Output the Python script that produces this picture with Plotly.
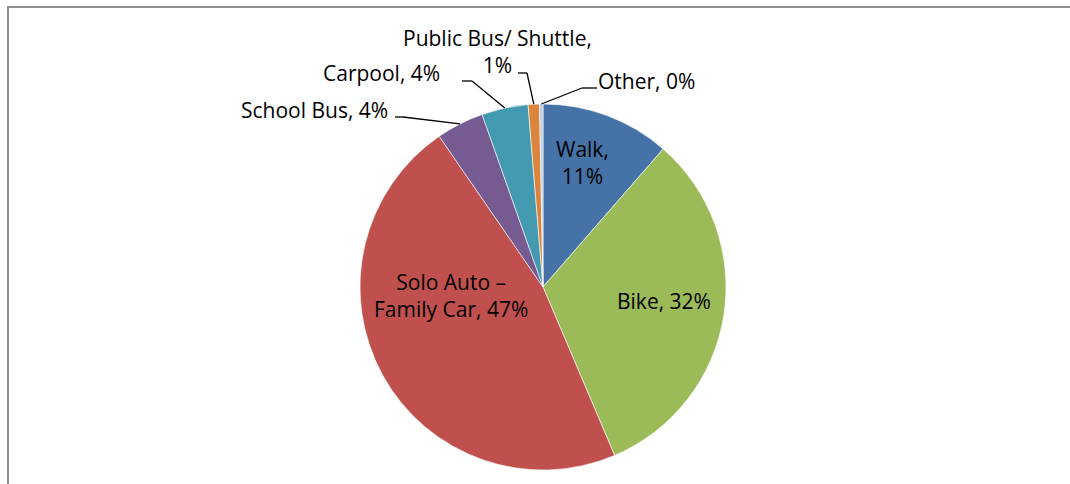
import math
import plotly.graph_objects as go

# Mode share (percent of trips)
modes = ["Walk", "Bike", "Solo Auto –<br>Family Car", "School Bus", "Carpool",
         "Public Bus/ Shuttle", "Other"]
shares = [11.4, 32.2, 46.8, 4.2, 4.1, 1.0, 0.3]
colors = ["#4572A7", "#9BBB59", "#C0504D", "#755B91", "#4399B0", "#DB843D", "#B9CDE5"]

W, H = 1070, 484
CX, CY, R = 543, 287, 183          # pie centre and radius in pixels
FONT = dict(family="Open Sans", size=21, color="#000000")

total = sum(shares)
pct = [f"{round(v / total * 100)}%" for v in shares]


def px(x):
    return x / W


def py(y):
    return 1 - y / H


def edge_point(i):
    """Pixel point on the rim at the middle of slice i (clockwise from 12 o'clock)."""
    cum = sum(shares[:i]) + shares[i] / 2
    theta = 2 * math.pi * cum / total
    return CX + R * math.sin(theta), CY - R * math.cos(theta)


fig = go.Figure(go.Pie(
    labels=modes,
    values=shares,
    sort=False,
    direction="clockwise",
    rotation=0,
    marker=dict(colors=colors, line=dict(color="#FFFFFF", width=0.6)),
    textinfo="none",
    hoverinfo="label+percent",
    domain=dict(x=[px(CX - R), px(CX + R)], y=[py(CY + R), py(CY - R)]),
    showlegend=False,
))

annotations = []
shapes = []

# labels drawn on the slices: (slice index, text layout, centre px)
inside = [
    (0, "{name},<br>{p}", (582, 162)),
    (1, "{name}, {p}", (664, 301)),
    (2, "{name}, {p}", (451, 295)),
]
for i, fmt, (x, y) in inside:
    annotations.append(dict(
        text=fmt.format(name=modes[i], p=pct[i]), x=px(x), y=py(y),
        xref="paper", yref="paper", showarrow=False, font=FONT,
        xanchor="center", yanchor="middle",
    ))

# labels outside the pie with elbow leader lines:
# (slice index, text layout, text centre, leader start, elbow)
outside = [
    (3, "{name}, {p}", (314, 110), (395, 117), (403, 117)),
    (4, "{name}, {p}", (381, 73), (462, 81), (472, 81)),
    (5, "{name},<br>{p}", (497, 52), (518, 73), (527, 73)),
    (6, "{name}, {p}", (646, 81), (597, 88), (582, 88)),
]
for i, fmt, (tx, ty), start, elbow in outside:
    annotations.append(dict(
        text=fmt.format(name=modes[i], p=pct[i]), x=px(tx), y=py(ty),
        xref="paper", yref="paper", showarrow=False, font=FONT,
        xanchor="center", yanchor="middle",
    ))
    ex, ey = edge_point(i)
    for (x0, y0), (x1, y1) in [(start, elbow), (elbow, (ex, ey))]:
        shapes.append(dict(
            type="line", xref="paper", yref="paper",
            x0=px(x0), y0=py(y0), x1=px(x1), y1=py(y1),
            line=dict(color="#000000", width=1.3),
        ))

# chart area frame (open to the right and bottom)
shapes.append(dict(
    type="rect", xref="paper", yref="paper",
    x0=px(8), y0=-0.05, x1=1.05, y1=py(7),
    line=dict(color="#8E8E8E", width=2), layer="below",
))

fig.update_layout(
    width=W, height=H,
    margin=dict(l=0, r=0, t=0, b=0),
    paper_bgcolor="#FFFFFF",
    plot_bgcolor="#FFFFFF",
    annotations=annotations,
    shapes=shapes,
)

fig.write_html("out.html")
